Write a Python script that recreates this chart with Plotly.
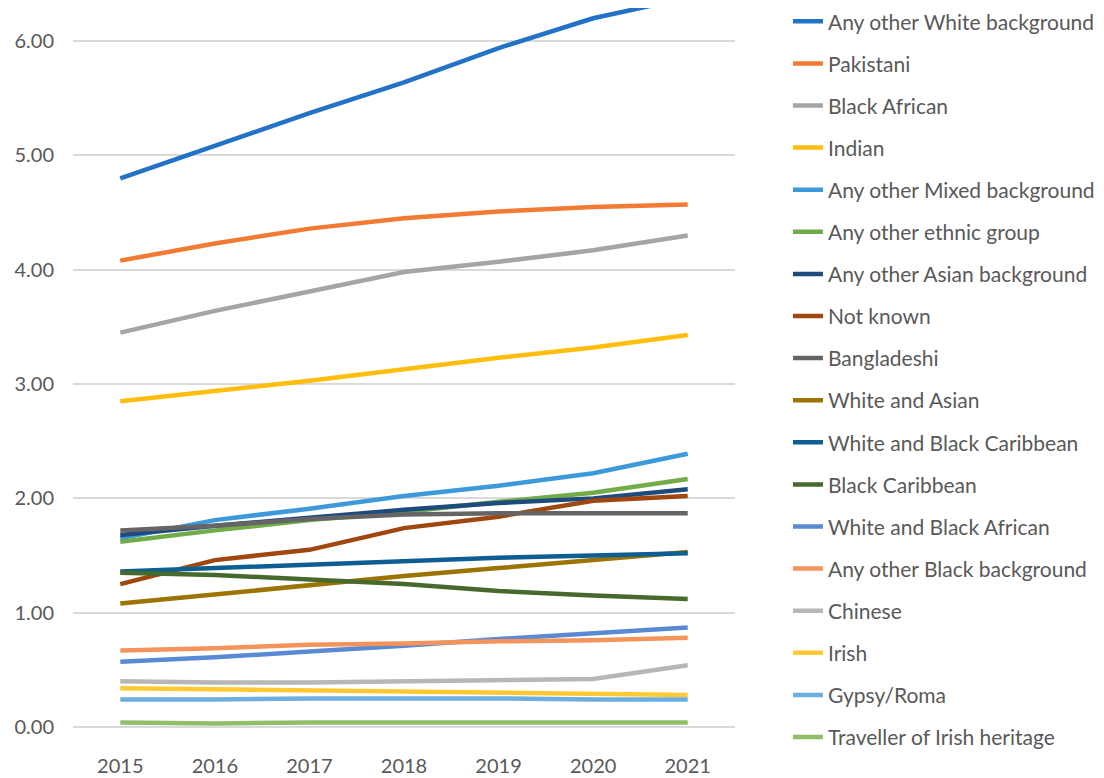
import plotly.graph_objects as go

years = [2015, 2016, 2017, 2018, 2019, 2020, 2021]

groups = [
    "Any other White background",
    "Pakistani",
    "Black African",
    "Indian",
    "Any other Mixed background",
    "Any other ethnic group",
    "Any other Asian background",
    "Not known",
    "Bangladeshi",
    "White and Asian",
    "White and Black Caribbean",
    "Black Caribbean",
    "White and Black African",
    "Any other Black background",
    "Chinese",
    "Irish",
    "Gypsy/Roma",
    "Traveller of Irish heritage",
]

any_other_white = [4.80, 5.09, 5.37, 5.64, 5.94, 6.20, 6.38]
pakistani = [4.08, 4.23, 4.36, 4.45, 4.51, 4.55, 4.57]
black_african = [3.45, 3.64, 3.81, 3.98, 4.07, 4.17, 4.30]
indian = [2.85, 2.94, 3.03, 3.13, 3.23, 3.32, 3.43]
any_other_mixed = [1.65, 1.81, 1.91, 2.02, 2.11, 2.22, 2.39]
any_other_ethnic = [1.62, 1.72, 1.81, 1.88, 1.97, 2.05, 2.17]
any_other_asian = [1.68, 1.76, 1.83, 1.90, 1.96, 2.00, 2.08]
not_known = [1.25, 1.46, 1.55, 1.74, 1.84, 1.98, 2.02]
bangladeshi = [1.72, 1.76, 1.82, 1.86, 1.87, 1.87, 1.87]
white_asian = [1.08, 1.16, 1.24, 1.32, 1.39, 1.46, 1.53]
white_black_caribbean = [1.36, 1.39, 1.42, 1.45, 1.48, 1.50, 1.52]
black_caribbean = [1.35, 1.33, 1.29, 1.25, 1.19, 1.15, 1.12]
white_black_african = [0.57, 0.61, 0.66, 0.71, 0.77, 0.82, 0.87]
any_other_black = [0.67, 0.69, 0.72, 0.73, 0.75, 0.76, 0.78]
chinese = [0.40, 0.39, 0.39, 0.40, 0.41, 0.42, 0.54]
irish = [0.34, 0.33, 0.32, 0.31, 0.30, 0.29, 0.28]
gypsy_roma = [0.24, 0.24, 0.25, 0.25, 0.25, 0.24, 0.24]
traveller = [0.04, 0.03, 0.04, 0.04, 0.04, 0.04, 0.04]

series = [
    any_other_white, pakistani, black_african, indian, any_other_mixed,
    any_other_ethnic, any_other_asian, not_known, bangladeshi, white_asian,
    white_black_caribbean, black_caribbean, white_black_african,
    any_other_black, chinese, irish, gypsy_roma, traveller,
]

colors = [
    "#2272C6", "#F37A32", "#A5A5A5", "#FFBE0B", "#3C9ADB", "#72AC48",
    "#1F4A7E", "#A0470F", "#656565", "#9C7402", "#0D5E93", "#466A2D",
    "#5A8AD4", "#F4935A", "#B7B7B7", "#FFC933", "#6CAEDF", "#8FBE67",
]

fig = go.Figure()
for i, (name, vals, col) in enumerate(zip(groups, series, colors)):
    fig.add_trace(go.Scatter(
        x=years, y=vals, name=name, mode="lines",
        legendgroup=str(i),
        line=dict(color=col, width=4.5),
    ))

# page body has an 8px margin, so the figure is sized to fit the window
fig.update_layout(
    width=1096, height=770,
    margin=dict(l=65, r=369, t=0, b=51, autoexpand=False),
    paper_bgcolor="white", plot_bgcolor="white",
    font=dict(family="Lato", size=20, color="#595959"),
    showlegend=True,
    legend=dict(
        x=1.08, xanchor="left", y=1.0095, yanchor="top",
        traceorder="grouped", tracegroupgap=11.8, maxheight=900,
        font=dict(size=21, color="#595959"),
        bgcolor="rgba(0,0,0,0)",
    ),
)

fig.update_xaxes(
    range=[2014.5, 2021.5], tickmode="array", tickvals=years,
    ticktext=[str(y) for y in years],
    showgrid=False, zeroline=False, showline=False,
    ticklabelstandoff=25, tickfont=dict(size=20, color="#595959"),
)
fig.update_yaxes(
    range=[0, 6.29], tickmode="array", tickvals=[0, 1, 2, 3, 4, 5, 6],
    tickformat=".2f", showgrid=True, gridcolor="#D9D9D9", gridwidth=1.5,
    zeroline=True, zerolinecolor="#D9D9D9", zerolinewidth=1.5,
    showline=False, ticklabelstandoff=18,
    tickfont=dict(size=20, color="#595959"),
)

fig.write_html("out.html")
